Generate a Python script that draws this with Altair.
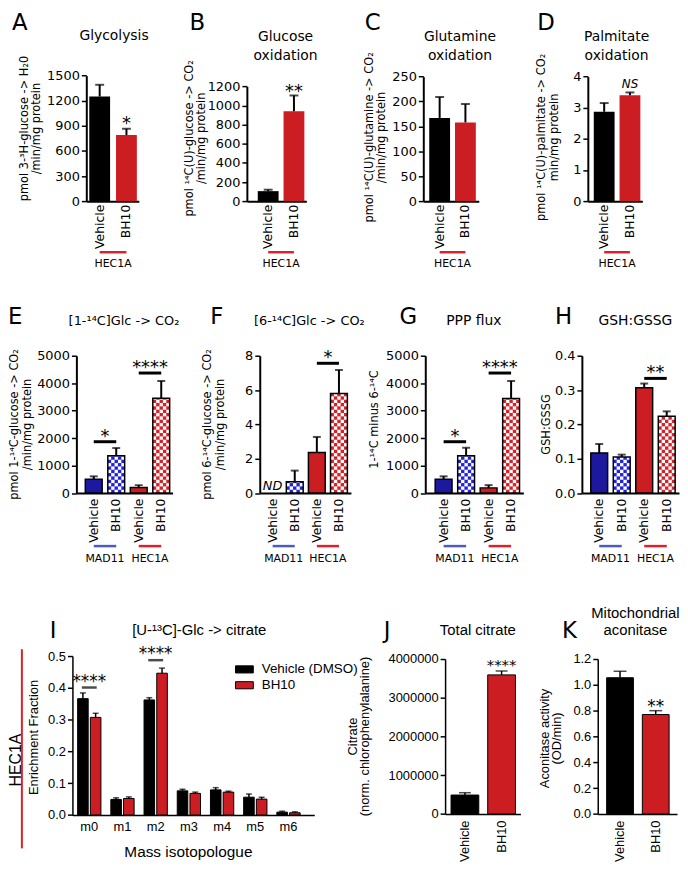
import altair as alt
import pandas as pd

# ----------------------------------------------------------------- values
conditions = ["Vehicle", "BH10"]
glycolysis = [1250, 790]
glycolysis_sem = [140, 75]
glucose_oxidation = [105, 940]
glucose_oxidation_sem = [15, 165]
glutamine_oxidation = [167, 158]
glutamine_oxidation_sem = [42, 37]
palmitate_oxidation = [2.87, 3.40]
palmitate_oxidation_sem = [0.28, 0.09]

line_conditions = ["M-Vehicle", "M-BH10", "H-Vehicle", "H-BH10"]
cell_lines = ["MAD11", "HEC1A"]
glc1_co2 = [500, 1360, 200, 3450]
glc1_co2_sem = [110, 280, 90, 630]
glc6_co2 = [None, 0.66, 2.37, 5.80]
glc6_co2_sem = [None, 0.65, 0.90, 1.37]
ppp_flux = [500, 1360, 190, 3440]
ppp_flux_sem = [110, 290, 100, 640]
gsh_gssg = [0.117, 0.105, 0.307, 0.224]
gsh_gssg_sem = [0.026, 0.007, 0.012, 0.014]

isotopologues = ["m0", "m1", "m2", "m3", "m4", "m5", "m6"]
iso_conditions = ["Vehicle (DMSO)", "BH10"]
iso_vehicle = [0.366, 0.049, 0.362, 0.076, 0.079, 0.056, 0.009]
iso_vehicle_sem = [0.018, 0.005, 0.007, 0.005, 0.007, 0.010, 0.003]
iso_bh10 = [0.307, 0.052, 0.446, 0.068, 0.072, 0.050, 0.007]
iso_bh10_sem = [0.013, 0.005, 0.016, 0.004, 0.003, 0.006, 0.003]

total_citrate = [490000, 3590000]
total_citrate_sem = [60000, 100000]
aconitase = [1.055, 0.77]
aconitase_sem = [0.05, 0.03]

# significance annotations (from, to, level, text)
glc1_sig = (["M-Vehicle", "H-Vehicle"], ["M-BH10", "H-BH10"], [1870, 4370], ["*", "****"])
glc6_sig = (["H-Vehicle"], ["H-BH10"], [7.56], ["*"])
ppp_sig = (["M-Vehicle", "H-Vehicle"], ["M-BH10", "H-BH10"], [1870, 4370], ["*", "****"])
gsh_sig = (["H-Vehicle"], ["H-BH10"], [0.334], ["**"])
iso_sig_mass = ["m0", "m2"]
iso_sig_level = [0.401, 0.487]
iso_sig_text = ["****", "****"]

# tick labels
ticks_A = [0, 300, 600, 900, 1200, 1500]
ticks_B = [0, 200, 400, 600, 800, 1000, 1200]
ticks_C = [0, 50, 100, 150, 200, 250]
ticks_D = [0, 1, 2, 3, 4]
ticks_EG = [0, 1000, 2000, 3000, 4000, 5000]
ticks_F = [0, 2, 4, 6, 8]
ticks_H = [0, 0.1, 0.2, 0.3, 0.4]
ticks_I = [0, 0.1, 0.2, 0.3, 0.4, 0.5]
ticks_J = [0, 1000000, 2000000, 3000000, 4000000]
ticks_K = [0, 0.2, 0.4, 0.6, 0.8, 1.0, 1.2]

# ----------------------------------------------------------------- styles
DJV = "DejaVu Sans"
LIB = "Liberation Sans"
BLACK = "#000000"
RED = "#cc1d22"
RED_CHK = "#d42027"
BLUE = "#1c199f"
BLUE_CHK = "#2222dc"
BLUE_LINE = "#4a5bc4"
RED_LINE = "#dd2128"

SX = 1.0
SY = 0.99


def LX(r):
    return (r - 8.0) * SX


def LY(r):
    return (r - 4.0) * SY


COLS = [8, 249, 427, 587, 686]
ROWS = [4, 353, 659, 821]


def cell(r, c):
    return (LX(COLS[c]), LY(ROWS[r]), LX(COLS[c + 1]) - LX(COLS[c]), LY(ROWS[r + 1]) - LY(ROWS[r]))


ONE = pd.DataFrame({"k": [0]})


def ann(text, rx, ry, cl, size, font, angle=0, align="center", baseline="alphabetic",
        style="normal", color="black"):
    return alt.Chart(ONE).mark_text(
        text=text, font=font, fontSize=size, angle=angle, align=align, baseline=baseline,
        fontStyle=style, color=color
    ).encode(x=alt.value(LX(rx) - cl[0]), y=alt.value(LY(ry) - cl[1]))


def band_scale(domain, ax, ex, left, w, step, cx):
    n = len(domain)
    total = (n - 1) * step + w
    extra = (ex - ax) - total
    return alt.Scale(domain=domain, range=[LX(ax) - cx, LX(ex) - cx],
                     paddingInner=1 - w / step, paddingOuter=extra / (2 * step),
                     align=(left - ax) / extra)


def lin_scale(ymax, yb, yt, cy):
    return alt.Scale(domain=[0, ymax], range=[LY(yb) - cy, LY(yt) - cy], nice=False, zero=True)


def y_axis(ticks, fmt, ax, cx, font, dw):
    return alt.Axis(values=ticks, format=fmt, title=None, offset=-(LX(ax) - cx), tickSize=5,
                    tickWidth=1.5, domainWidth=dw, labelFont=font, labelFontSize=13,
                    labelPadding=2, grid=False, domainColor="black", tickColor="black",
                    labelColor="black")


def x_axis(yb, cy, ch, font, size, angle, pad, dw, expr=None):
    kw = dict(title=None, offset=(LY(yb) - cy) - ch, labelAngle=angle, ticks=False,
              domainWidth=dw, labelFont=font, labelFontSize=size, labelPadding=pad,
              grid=False, domainColor="black", labelColor="black")
    if expr:
        kw["labelExpr"] = expr
    return alt.Axis(**kw)


def checker_cells(cats, means, targets, ymax, plot_px, bar_px, ncol=5):
    h = ymax * (bar_px / ncol) / plot_px
    out = []
    for c, m in zip(cats, means):
        if c not in targets or m is None:
            continue
        i = 0
        while i * h < m:
            for j in range(ncol):
                if (i + j) % 2 == 0:
                    out.append({"cat": c, "j": j, "y0": i * h, "y1": min((i + 1) * h, m)})
            i += 1
    return pd.DataFrame(out)


def simple_panel(cats, means, sems, fills, cl, ax, ex, left, w, step, yb, yt, ymax, ticks, fmt,
                 font, xlab_pad, dw=2.0, label_expr=None, stroke_w=0.0, err_w=2.0, cap=9.0,
                 checker=(), texts=(), sig=None, groups=None, group_y=None, group_label_y=None,
                 extra=()):
    cx, cy, cw, ch = cl
    xs = band_scale(cats, ax, ex, left, w, step, cx)
    ys = lin_scale(ymax, yb, yt, cy)
    xlab_fs = 12.5 if font == DJV else 13
    XA = x_axis(yb, cy, ch, font, xlab_fs, 270, xlab_pad, dw, label_expr)
    YA = y_axis(ticks, fmt, ax, cx, font, dw)
    rows = [dict(cat=c, mean=m, top=m + s) for c, m, s in zip(cats, means, sems) if m is not None]
    df = pd.DataFrame(rows)

    def xf(field="cat", center=False):
        if center:
            return alt.X(f"{field}:N", scale=xs, axis=XA, bandPosition=0.5)
        return alt.X(f"{field}:N", scale=xs, axis=XA)

    def yf(field):
        return alt.Y(f"{field}:Q", scale=ys, axis=YA)

    layers = [
        alt.Chart(df).mark_bar(strokeWidth=0).encode(
            x=xf(), y=yf("mean"),
            fill=alt.Fill("cat:N", scale=alt.Scale(domain=cats, range=fills), legend=None))
    ]
    if checker:
        cdf = checker_cells(cats, means, checker, ymax, yb - yt, w)
        layers.append(alt.Chart(cdf).mark_bar(color="white", strokeWidth=0).encode(
            x=xf(),
            xOffset=alt.XOffset("j:O", scale=alt.Scale(paddingInner=0, paddingOuter=0)),
            y=yf("y0"), y2="y1"))
    if stroke_w:
        layers.append(alt.Chart(df).mark_bar(fillOpacity=0, stroke="black", strokeWidth=stroke_w).encode(
            x=xf(), y=yf("mean")))
    layers.append(alt.Chart(df).mark_rule(color="black", strokeWidth=err_w).encode(
        x=xf(center=True), y=yf("mean"), y2="top"))
    layers.append(alt.Chart(df).mark_tick(color="black", thickness=err_w, size=cap).encode(
        x=xf(center=True), y=yf("top")))
    tops = dict(zip(df["cat"], df["top"]))
    for c, lev, t, fs, st, dy in texts:
        tdf = pd.DataFrame({"cat": [c], "level": [tops[c] if lev is None else lev], "label": [t]})
        layers.append(alt.Chart(tdf).mark_text(font=DJV, fontSize=fs, fontStyle=st,
                                                baseline="alphabetic", dy=dy, color="black").encode(
            x=xf(center=True), y=yf("level"), text="label:N"))
    if sig:
        sdf = pd.DataFrame({"a": sig[0], "b": sig[1], "level": sig[2], "label": sig[3]})
        layers.append(alt.Chart(sdf).mark_rule(color="black", strokeWidth=3).encode(
            x=xf("a", True), x2=alt.X2("b", bandPosition=0.5), y=yf("level")))
        layers.append(alt.Chart(sdf).mark_text(font=DJV, fontSize=18, baseline="alphabetic",
                                               dx=step * SX / 2, dy=0, color="black").encode(
            x=xf("a", True), y=yf("level"), text="label:N"))
    if groups:
        gdf = pd.DataFrame({"a": groups[0], "b": groups[1], "label": groups[2]})
        layers.append(alt.Chart(gdf).mark_rule(strokeWidth=2.5).encode(
            x=xf("a", True), x2=alt.X2("b", bandPosition=0.5), y=alt.value(LY(group_y) - cy),
            color=alt.Color("label:N", scale=alt.Scale(domain=cell_lines, range=[BLUE_LINE, RED_LINE]),
                            legend=None)))
        layers.append(alt.Chart(gdf).mark_text(font=DJV, fontSize=11, baseline="middle",
                                               dx=step * SX / 2, color="black").encode(
            x=xf("a", True), y=alt.value(LY(group_label_y) - cy), text="label:N"))
    layers.extend(extra)
    return alt.layer(*layers).properties(width=cw, height=ch)


def ytitle(lines, xs_ref, y_ref, cl, size=11.5, font=DJV):
    return [ann(t, x, y_ref, cl, size, font, angle=270, baseline="middle") for t, x in zip(lines, xs_ref)]


# ----------------------------------------------------------------- row 1
cA, cB, cC, cD = cell(0, 0), cell(0, 1), cell(0, 2), cell(0, 3)
hec_only = (["Vehicle"], ["BH10"], ["HEC1A"])

A = simple_panel(conditions, glycolysis, glycolysis_sem, [BLACK, RED], cA, 87, 140, 90, 21, 27,
                 196, 68, 1500, ticks_A, "d", DJV, 3,
                 texts=[("BH10", None, "*", 18, "normal", 0)],
                 groups=hec_only, group_y=248, group_label_y=260,
                 extra=[ann("A", 12, 22, cA, 23, DJV, align="left"),
                        ann("Glycolysis", 115, 32, cA, 14, DJV)]
                 + ytitle(["pmol 3-³H-glucose -> H₂0", "/min/mg protein"], [25, 37], 122, cA))

B = simple_panel(conditions, glucose_oxidation, glucose_oxidation_sem, [BLACK, RED], cB, 249, 309, 260, 21, 26,
                 196, 79, 1200, ticks_B, "d", DJV, 3,
                 texts=[("BH10", None, "**", 18, "normal", 2)],
                 groups=hec_only, group_y=248, group_label_y=260,
                 extra=[ann("B", 191, 22, cB, 23, DJV, align="left"),
                        ann("Glucose", 288, 33, cB, 14, DJV),
                        ann("oxidation", 288, 52, cB, 14, DJV)]
                 + ytitle(["pmol ¹⁴C(U)-glucose -> CO₂", "/min/mg protein"], [192, 204], 132, cB))

C = simple_panel(conditions, glutamine_oxidation, glutamine_oxidation_sem, [BLACK, RED], cC, 427, 483, 433, 21, 26,
                 196, 69, 250, ticks_C, "d", DJV, 3,
                 groups=hec_only, group_y=248, group_label_y=260,
                 extra=[ann("C", 368, 22, cC, 23, DJV, align="left"),
                        ann("Glutamine", 464, 33, cC, 14, DJV),
                        ann("oxidation", 464, 52, cC, 14, DJV)]
                 + ytitle(["pmol ¹⁴C(U)-glutamine -> CO₂", "/min/mg protein"], [373, 385], 131, cC))

D = simple_panel(conditions, palmitate_oxidation, palmitate_oxidation_sem, [BLACK, RED], cD, 593, 648, 599, 21, 26,
                 196, 69, 4, ticks_D, "d", DJV, 3,
                 texts=[("BH10", None, "NS", 12, "italic", -4)],
                 groups=hec_only, group_y=248, group_label_y=260,
                 extra=[ann("D", 542, 22, cD, 23, DJV, align="left"),
                        ann("Palmitate", 622, 33, cD, 14, DJV),
                        ann("oxidation", 622, 52, cD, 14, DJV)]
                 + ytitle(["pmol ¹⁴C(U)-palmitate -> CO₂", "min/mg protein"], [547, 560], 131, cD))

# ----------------------------------------------------------------- row 2
cE, cF, cG, cH = cell(1, 0), cell(1, 1), cell(1, 2), cell(1, 3)
both_lines = (["M-Vehicle", "H-Vehicle"], ["M-BH10", "H-BH10"], cell_lines)
fills4 = [BLUE, BLUE_CHK, RED, RED_CHK]
chk = ["M-BH10", "H-BH10"]
lexpr = "split(datum.label, '-')[1]"

E = simple_panel(line_conditions, glc1_co2, glc1_co2_sem, fills4, cE, 77, 174, 86, 17, 22.7,
                 493, 353, 5000, ticks_EG, "d", DJV, 5, label_expr=lexpr, stroke_w=1.5, cap=8,
                 checker=chk, sig=glc1_sig, groups=both_lines, group_y=547, group_label_y=560,
                 extra=[ann("E", 8, 321, cE, 23, DJV, align="left"),
                        ann("[1-¹⁴C]Glc -> CO₂", 125, 322, cE, 13, DJV)]
                 + ytitle(["pmol 1-¹⁴C-glucose -> CO₂", "/min/mg protein"], [15, 28], 423, cE))

F = simple_panel(line_conditions, glc6_co2, glc6_co2_sem, fills4, cF, 262, 354, 266.5, 17, 22.3,
                 493, 353, 8, ticks_F, "d", DJV, 5, label_expr=lexpr, stroke_w=1.5, cap=8,
                 checker=chk, sig=glc6_sig, groups=both_lines, group_y=547, group_label_y=560,
                 texts=[("M-Vehicle", 0, "ND", 13, "italic", -3)],
                 extra=[ann("F", 212, 321, cF, 23, DJV, align="left"),
                        ann("[6-¹⁴C]Glc -> CO₂", 312, 322, cF, 13, DJV)]
                 + ytitle(["pmol 6-¹⁴C-glucose -> CO₂", "/min/mg protein"], [210, 223], 423, cF))

G = simple_panel(line_conditions, ppp_flux, ppp_flux_sem, fills4, cG, 429, 528, 439, 17, 22.7,
                 493, 353, 5000, ticks_EG, "d", DJV, 5, label_expr=lexpr, stroke_w=1.5, cap=8,
                 checker=chk, sig=ppp_sig, groups=both_lines, group_y=547, group_label_y=560,
                 extra=[ann("G", 403, 321, cG, 23, DJV, align="left"),
                        ann("PPP flux", 478, 322, cG, 14, DJV)]
                 + ytitle(["1-¹⁴C minus 6-¹⁴C"], [378], 418, cG))

H = simple_panel(line_conditions, gsh_gssg, gsh_gssg_sem, fills4, cH, 587, 685, 596, 17, 22.7,
                 493, 353, 0.4, ticks_H, ".1f", DJV, 5, label_expr=lexpr, stroke_w=1.5, cap=8,
                 checker=chk, sig=gsh_sig, groups=both_lines, group_y=547, group_label_y=560,
                 extra=[ann("H", 560, 321, cH, 23, DJV, align="left"),
                        ann("GSH:GSSG", 641, 322, cH, 14, DJV)]
                 + ytitle(["GSH:GSSG"], [552], 423, cH))

# ----------------------------------------------------------------- row 3
cI, cJ, cK = cell(2, 0), cell(2, 1), cell(2, 2)


def iso_panel(cl):
    cx, cy, cw, ch = cl
    xs = band_scale(isotopologues, 73, 317, 78.25, 23.5, 33.5, cx)
    ys = lin_scale(0.5, 821, 659, cy)
    XA = x_axis(821, cy, ch, LIB, 13, 0, 6, 1.5)
    YA = y_axis(ticks_I, ".1f", 73, cx, LIB, 1.5)
    df = pd.DataFrame({
        "mass": isotopologues * 2,
        "cond": [iso_conditions[0]] * len(isotopologues) + [iso_conditions[1]] * len(isotopologues),
        "mean": iso_vehicle + iso_bh10,
        "top": [m + s for m, s in zip(iso_vehicle, iso_vehicle_sem)] + [m + s for m, s in zip(iso_bh10, iso_bh10_sem)],
    })
    xo = alt.XOffset("cond:N", scale=alt.Scale(domain=iso_conditions, paddingInner=0.17, paddingOuter=0))
    xn = alt.X("mass:N", scale=xs, axis=XA)

    def yf(field):
        return alt.Y(f"{field}:Q", scale=ys, axis=YA)

    bars = alt.Chart(df).mark_bar(stroke="black", strokeWidth=1).encode(
        x=xn, xOffset=xo, y=yf("mean"),
        fill=alt.Fill("cond:N", scale=alt.Scale(domain=iso_conditions, range=[BLACK, RED]),
                      legend=alt.Legend(orient="none", legendX=LX(237) - cx, legendY=LY(663) - cy,
                                        title=None, symbolType="M-1,-0.4H1V0.4H-1Z", symbolSize=324,
                                        symbolStrokeColor="black", symbolStrokeWidth=1,
                                        labelFont=LIB, labelFontSize=13.5, labelOffset=8,
                                        rowPadding=0, padding=0, labelColor="black")))
    err = alt.Chart(df).mark_rule(color="black", strokeWidth=1.5).encode(
        x=xn, xOffset=xo, y=yf("mean"), y2="top")
    capm = alt.Chart(df).mark_tick(color="black", thickness=1.5, size=6).encode(
        x=xn, xOffset=xo, y=yf("top"))
    sdf = pd.DataFrame({"mass": iso_sig_mass, "level": iso_sig_level, "label": iso_sig_text})
    sline = alt.Chart(sdf).mark_tick(color="black", thickness=2.5, size=15 * SX).encode(
        x=xn, y=yf("level"))
    stext = alt.Chart(sdf).mark_text(font=DJV, fontSize=17, baseline="alphabetic", dy=-1, color="black").encode(
        x=xn, y=yf("level"), text="label:N")
    red_bar = alt.Chart(ONE).mark_rule(color=RED_LINE, strokeWidth=2).encode(
        x=alt.value(LX(22) - cx), y=alt.value(LY(652) - cy), y2=alt.value(LY(855) - cy))
    extra = [ann("I", 50, 641, cl, 23, DJV, align="left"),
             ann("[U-¹³C]-Glc -> citrate", 201, 638, cl, 15, LIB),
             ann("Mass isotopologue", 190, 864, cl, 15.5, LIB),
             ann("Enrichment Fraction", 34, 742, cl, 13, LIB, angle=270, baseline="middle"),
             ann("HEC1A", 16, 765, cl, 16, LIB, angle=270, baseline="middle"),
             red_bar]
    return alt.layer(bars, err, capm, sline, stext, *extra).properties(width=cw, height=ch)


I = iso_panel(cI)

J = simple_panel(conditions, total_citrate, total_citrate_sem, [BLACK, RED], cJ, 449, 525, 455, 28, 37,
                 820, 662, 4000000, ticks_J, "d", LIB, 6, dw=1.5, stroke_w=1, err_w=1.5, cap=12,
                 texts=[("BH10", None, "****", 15, "normal", -1)],
                 extra=[ann("J", 387, 641, cJ, 23, DJV, align="left"),
                        ann("Total citrate", 482, 638, cJ, 15, LIB)]
                 + ytitle(["Citrate", "(norm. chlorophenylalanine)"], [356, 368], 741, cJ, 13, LIB))

K = simple_panel(conditions, aconitase, aconitase_sem, [BLACK, RED], cK, 603, 683, 612, 27, 36,
                 820, 662, 1.2, ticks_K, ".1f", LIB, 6, dw=1.5, stroke_w=1, err_w=1.5, cap=13,
                 texts=[("BH10", None, "**", 17, "normal", 1)],
                 extra=[ann("K", 567, 641, cK, 23, DJV, align="left"),
                        ann("Mitochondrial", 641, 620, cK, 15, LIB),
                        ann("aconitase", 641, 638, cK, 15, LIB)]
                 + ytitle(["Aconitase activity", "(OD/min)"], [550, 562], 743, cK, 13, LIB))

chart = alt.ConcatChart(
    concat=[A, B, C, D, E, F, G, H, I, J, K], columns=4, spacing=0, bounds="flush", align="each",
    padding=0,
).resolve_scale(
    x="independent", y="independent", xOffset="independent", fill="independent", color="independent"
).configure_view(strokeWidth=0)

chart.save("out.html", embed_options={"renderer": "svg", "actions": False})
